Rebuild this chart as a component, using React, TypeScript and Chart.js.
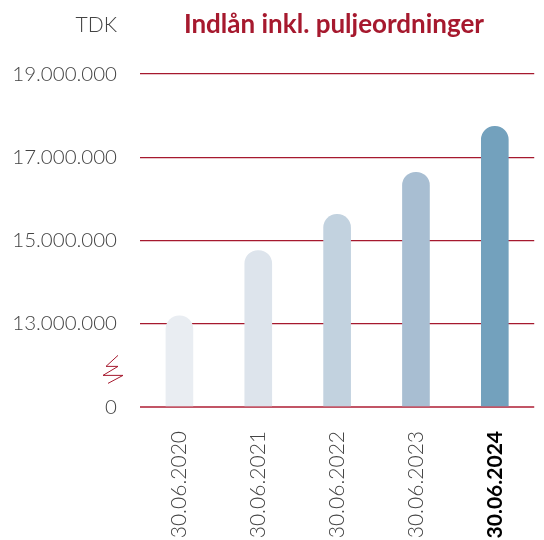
import React, { useEffect, useRef } from "react";
import { Chart, registerables } from "chart.js";

Chart.register(...registerables);

const categories = ["30.06.2020", "30.06.2021", "30.06.2022", "30.06.2023", "30.06.2024"];
const values = [13190000, 14760000, 15630000, 16640000, 17740000];
const barColors = ["#e9edf2", "#dde4ec", "#c2d2df", "#a8bed2", "#73a1bd"];
const axisBreakValue = 11000000; // drawn as "0" (broken axis)
const yTicks = [11000000, 13000000, 15000000, 17000000, 19000000];
const title = "Indlån inkl. puljeordninger";
const unitLabel = "TDK";

const RED = "#a6192e";
const FONT = "Lato, 'Open Sans', sans-serif";

const fmt = (v: number) => (v === axisBreakValue ? "0" : v.toLocaleString("de-DE"));

export default function App() {
  const ref = useRef<HTMLCanvasElement | null>(null);
  useEffect(() => {
    if (!ref.current) return;
    const overlay = {
      id: "overlay",
      afterDraw(chart: any) {
        const { ctx, chartArea } = chart;
        const y = chart.scales.y;
        ctx.save();
        // title
        ctx.fillStyle = RED;
        ctx.font = `bold 26px ${FONT}`;
        ctx.textAlign = "center";
        ctx.textBaseline = "middle";
        ctx.fillText(title, 334, 25);
        // unit
        ctx.fillStyle = "#444";
        ctx.font = `300 21px ${FONT}`;
        ctx.textAlign = "right";
        ctx.fillText(unitLabel, chartArea.left - 23, 25);
        // axis break zigzag
        const yTop = y.getPixelForValue(13000000);
        const yBot = y.getPixelForValue(axisBreakValue);
        const mid = (yTop + yBot) / 2 + 4;
        const l = chartArea.left;
        ctx.strokeStyle = RED;
        ctx.lineWidth = 1;
        ctx.beginPath();
        ctx.moveTo(l - 22, mid - 14);
        ctx.lineTo(l - 34, mid - 3);
        ctx.lineTo(l - 22, mid - 3);
        ctx.lineTo(l - 37, mid + 6);
        ctx.lineTo(l - 17, mid + 6);
        ctx.lineTo(l - 32, mid + 14);
        ctx.stroke();
        ctx.restore();
      },
    };
    const chart = new Chart(ref.current, {
      type: "bar",
      data: {
        labels: categories,
        datasets: [
          {
            data: values,
            base: axisBreakValue,
            backgroundColor: barColors,
            barThickness: 27,
            borderRadius: { topLeft: 14, topRight: 14, bottomLeft: 0, bottomRight: 0 },
            borderSkipped: "bottom",
          } as any,
        ],
      },
      options: {
        animation: false,
        responsive: false,
        maintainAspectRatio: false,
        layout: { padding: { top: 74, right: 0, left: 0, bottom: 0 } },
        plugins: { legend: { display: false }, tooltip: { enabled: false }, title: { display: false } },
        scales: {
          x: {
            grid: { display: false, drawTicks: false },
            border: { display: false },
            ticks: {
              minRotation: 90,
              maxRotation: 90,
              padding: 24,
              color: (ctx: any) => (ctx.index === 4 ? "#000" : "#444"),
              font: (ctx: any) =>
                ctx.index === 4
                  ? { family: FONT, size: 21, weight: "bold" }
                  : { family: FONT, size: 21, weight: 300 },
            },
            afterFit: (s: any) => {
              s.height = 133;
            },
          },
          y: {
            min: axisBreakValue,
            max: 19000000,
            afterBuildTicks: (s: any) => {
              s.ticks = yTicks.map((v) => ({ value: v }));
            },
            grid: {
              drawTicks: false,
              color: ["#c25566", RED, RED, RED, RED],
              lineWidth: [2, 1.3, 1.3, 1.3, 1.3],
            },
            border: { display: false },
            ticks: {
              padding: 23,
              color: "#444",
              font: { family: FONT, size: 20.5, weight: 300 },
              callback: (v: any) => fmt(Number(v)),
            },
            afterFit: (s: any) => {
              s.width = 140;
            },
          },
        },
      },
      plugins: [overlay],
    });
    return () => chart.destroy();
  }, []);
  return (
    <div style={{ position: "absolute", left: 0, top: 0, width: 544, height: 540, background: "#fff" }}>
      <canvas ref={ref} width={544} height={540} style={{ display: "block" }} />
    </div>
  );
}
